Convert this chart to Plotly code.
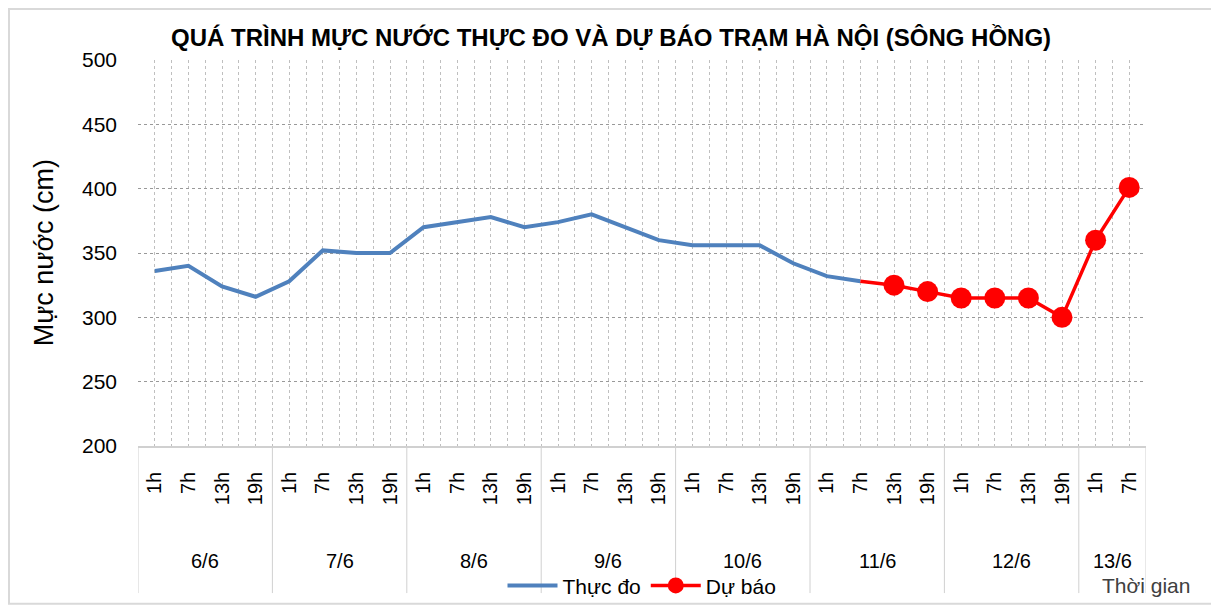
import plotly.graph_objects as go

# ---- data ----
days = ["6/6", "7/6", "8/6", "9/6", "10/6", "11/6", "12/6", "13/6"]
hours_per_day = [["1h", "7h", "13h", "19h"]] * 7 + [["1h", "7h"]]
hour_col = [h for hs in hours_per_day for h in hs]

observed = [336, 340, 324, 316,
            328, 352, 350, 350,
            370, 374, 378, 370,
            374, 380, 370, 360,
            356, 356, 356, 342,
            332, 328]
forecast_start = 21  # 11/6 7h (forecast line starts at the last observation)
forecast = [328, 325, 320,
            315, 315, 315, 300,
            360, 401]

title_text = "QUÁ TRÌNH MỰC NƯỚC THỰC ĐO VÀ DỰ BÁO TRẠM HÀ NỘI (SÔNG HỒNG)"
y_title = "Mực nước (cm)"
x_title = "Thời gian"

FONT = "Liberation Sans, Arial, sans-serif"
n = len(hour_col)
idx = list(range(n))

fig = go.Figure()
fig.add_trace(go.Scatter(
    x=idx[:len(observed)], y=observed, mode="lines", name="Thực đo",
    line=dict(color="#4F81BD", width=4)))
fc_x = idx[forecast_start:forecast_start + len(forecast)]
fig.add_trace(go.Scatter(
    x=fc_x, y=forecast, mode="lines+markers", name="Dự báo",
    line=dict(color="#FF0000", width=3.5),
    marker=dict(color="#FF0000", opacity=1, line=dict(width=0),
                size=[0] + [21] * (len(forecast) - 1))))

# day group labels and dividers
shapes = []
annotations = []
start = 0
bounds = [-0.5]
for d, hs in zip(days, hours_per_day):
    mid = start + (len(hs) - 1) / 2
    annotations.append(dict(x=mid, y=-0.298, xref="x", yref="paper", text=d,
                            showarrow=False, font=dict(family=FONT, size=20, color="#000"),
                            yanchor="middle"))
    start += len(hs)
    bounds.append(start - 0.5)
for b in bounds:
    shapes.append(dict(type="line", xref="x", yref="paper", x0=b, x1=b, y0=0, y1=-0.381,
                       line=dict(color="#D0D0D0", width=1)))
# outer border
shapes.append(dict(type="rect", xref="paper", yref="paper", x0=-0.128, x1=1.07,
                   y0=-0.409, y1=1.132, line=dict(color="#D9D9D9", width=2)))

annotations.append(dict(x=1.0, y=-0.362, xref="paper", yref="paper", text=x_title,
                        showarrow=False, font=dict(family=FONT, size=21, color="#404040"),
                        xanchor="center", yanchor="middle"))
annotations.append(dict(x=-0.093, y=0.5, xref="paper", yref="paper", text=y_title,
                        showarrow=False, textangle=-90,
                        font=dict(family=FONT, size=27, color="#000"),
                        xanchor="center", yanchor="middle"))

fig.update_layout(
    width=1211, height=597,
    margin=dict(l=130, r=73, t=52, b=159, autoexpand=False),
    paper_bgcolor="white", plot_bgcolor="white",
    title=dict(text="<b>" + title_text + "</b>", x=0.498, xanchor="center",
               yref="container", y=0.95, yanchor="middle",
               font=dict(family=FONT, size=24, color="#000")),
    showlegend=True,
    legend=dict(orientation="h", x=0.5, xanchor="center", y=-0.362, yanchor="middle",
                font=dict(family=FONT, size=21, color="#000"), bgcolor="rgba(0,0,0,0)",
                itemwidth=50, tracegroupgap=0),
    shapes=shapes, annotations=annotations,
)
fig.update_xaxes(
    automargin=False,
    range=[-0.5, n - 0.5], tickmode="array", tickvals=idx, ticktext=hour_col,
    tickangle=-90, ticks="", ticklabelstandoff=16,
    tickfont=dict(family=FONT, size=20, color="#000"),
    showgrid=True, gridcolor="#BFBFBF", griddash="dot", gridwidth=1,
    minor=dict(tick0=0.5, dtick=1, showgrid=True, gridcolor="#BFBFBF", griddash="dot", gridwidth=1),
    showline=True, linecolor="#D0D0D0", linewidth=1.5, mirror=False, zeroline=False)
fig.update_yaxes(
    automargin=False,
    range=[200, 500], dtick=50, ticks="", ticklabelstandoff=20,
    tickfont=dict(family=FONT, size=21, color="#000"),
    showgrid=True, gridcolor="#999999", griddash="dot", gridwidth=1,
    showline=False, zeroline=False)

fig.write_html("out.html")
